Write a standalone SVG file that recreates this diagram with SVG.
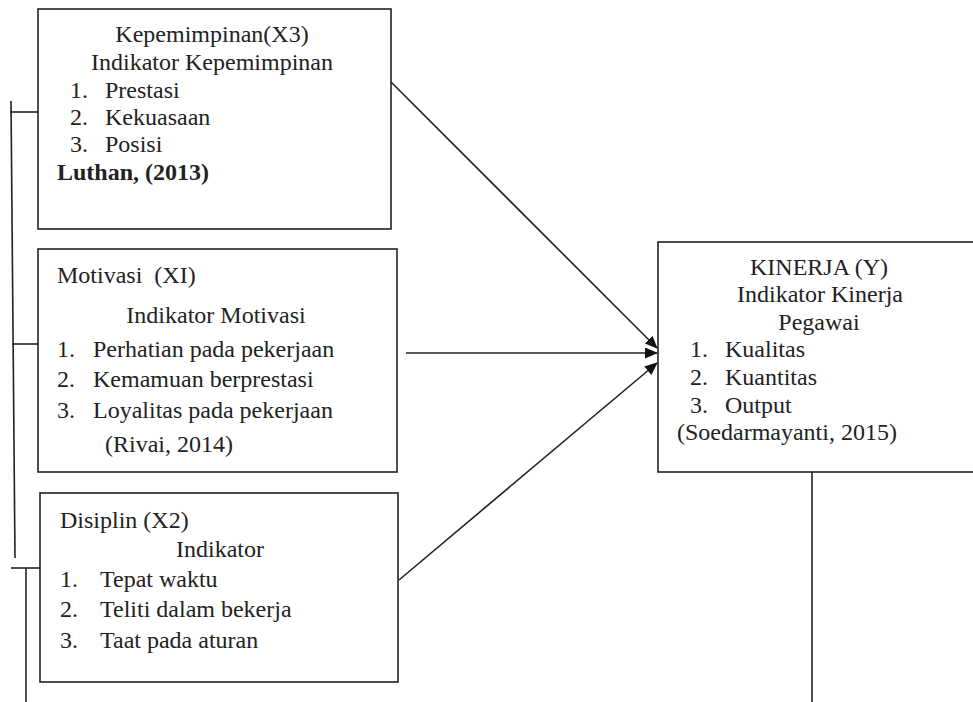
<svg xmlns="http://www.w3.org/2000/svg" width="973" height="702" viewBox="0 0 973 702">
<style>
.box{fill:#fff;stroke:#222;stroke-width:1.6}
.ln{fill:none;stroke:#222;stroke-width:1.6}
text{font-family:'Liberation Serif','Times New Roman','DejaVu Serif',serif;font-size:24px;fill:#222}
.c{text-anchor:middle}
.b{font-weight:bold}
</style>
<defs>
<marker id="ah" viewBox="0 0 13 11" refX="12" refY="5.5" markerWidth="13" markerHeight="11" markerUnits="userSpaceOnUse" orient="auto">
<path d="M0,0 L13,5.5 L0,11 Z" fill="#111"/>
</marker>
</defs>
<g id="connectors">
<polyline class="ln" points="11,101 15,558"/>
<line class="ln" x1="10" y1="112" x2="38" y2="112"/>
<line class="ln" x1="12" y1="344" x2="38" y2="344"/>
<line class="ln" x1="11" y1="568" x2="40" y2="568"/>
<line class="ln" x1="26" y1="568" x2="26" y2="702"/>
<line class="ln" x1="391" y1="82" x2="657" y2="348" marker-end="url(#ah)"/>
<line class="ln" x1="406" y1="353" x2="657" y2="353" marker-end="url(#ah)"/>
<line class="ln" x1="399" y1="580" x2="657" y2="363" marker-end="url(#ah)"/>
<line class="ln" x1="812" y1="472" x2="812" y2="702"/>
</g>
<g id="kepemimpinan">
<rect class="box" x="38" y="9" width="353" height="220"/>
<text class="c" x="212" y="42">Kepemimpinan(X3)</text>
<text class="c" x="212" y="70">Indikator Kepemimpinan</text>
<text x="70" y="98">1.</text><text x="105" y="98">Prestasi</text>
<text x="70" y="125">2.</text><text x="105" y="125">Kekuasaan</text>
<text x="70" y="152">3.</text><text x="105" y="152">Posisi</text>
<text class="b" x="57" y="180">Luthan, (2013)</text>
</g>
<g id="motivasi">
<rect class="box" x="38" y="249" width="359" height="223"/>
<text x="57" y="283" xml:space="preserve">Motivasi  (XI)</text>
<text class="c" x="216" y="323">Indikator Motivasi</text>
<text x="57" y="357">1.</text><text x="93" y="357">Perhatian pada pekerjaan</text>
<text x="57" y="387">2.</text><text x="93" y="387">Kemamuan berprestasi</text>
<text x="57" y="418">3.</text><text x="93" y="418">Loyalitas pada pekerjaan</text>
<text x="105" y="452">(Rivai, 2014)</text>
</g>
<g id="disiplin">
<rect class="box" x="40" y="493" width="358" height="189"/>
<text x="60" y="528">Disiplin (X2)</text>
<text class="c" x="220" y="557">Indikator</text>
<text x="60" y="587">1.</text><text x="100" y="587">Tepat waktu</text>
<text x="60" y="617">2.</text><text x="100" y="617">Teliti dalam bekerja</text>
<text x="60" y="648">3.</text><text x="100" y="648">Taat pada aturan</text>
</g>
<g id="kinerja">
<rect class="box" x="658" y="242" width="320" height="230"/>
<text class="c" x="819" y="275">KINERJA (Y)</text>
<text class="c" x="820" y="302">Indikator Kinerja</text>
<text class="c" x="819" y="330">Pegawai</text>
<text x="690" y="357">1.</text><text x="725" y="357">Kualitas</text>
<text x="690" y="385">2.</text><text x="725" y="385">Kuantitas</text>
<text x="690" y="413">3.</text><text x="725" y="413">Output</text>
<text x="677" y="440">(Soedarmayanti, 2015)</text>
</g>
</svg>
